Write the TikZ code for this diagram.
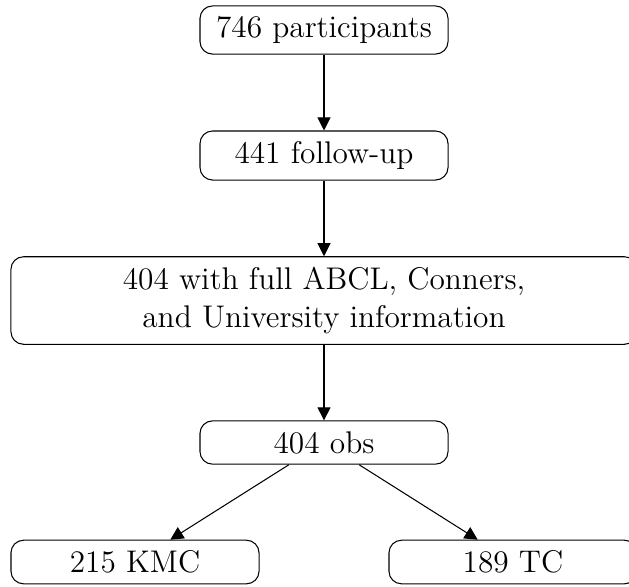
\documentclass[tikz,border=0pt]{standalone}
\usetikzlibrary{arrows.meta}
\begin{document}
\begin{tikzpicture}[x=0.383pt,y=-0.383pt,
  box/.style={draw, rounded corners=4.8pt, align=center, minimum width=95pt, inner sep=4pt,
    font=\fontsize{12}{14.5}\selectfont},
  widebox/.style={box, minimum width=239.8pt},
  arr/.style={-{Triangle[length=5pt,width=5pt]}}]
\useasboundingbox (0,0) rectangle (629,586);
\node[box] (a) at (324,30) {746 participants};
\node[box] (b) at (324,155.5) {441 follow-up};
\node[widebox] (c) at (324,300.5) {404 with full ABCL, Conners,\\ and University information};
\node[box] (d) at (324,442.5) {404 obs};
\node[box] (e) at (135,562) {215 KMC};
\node[box] (f) at (513,562) {189 TC};
\draw[arr] (a) -- (b);
\draw[arr] (b) -- (c);
\draw[arr] (c) -- (d);
\draw[arr] (d) -- (e);
\draw[arr] (d) -- (f);
\end{tikzpicture}
\end{document}
